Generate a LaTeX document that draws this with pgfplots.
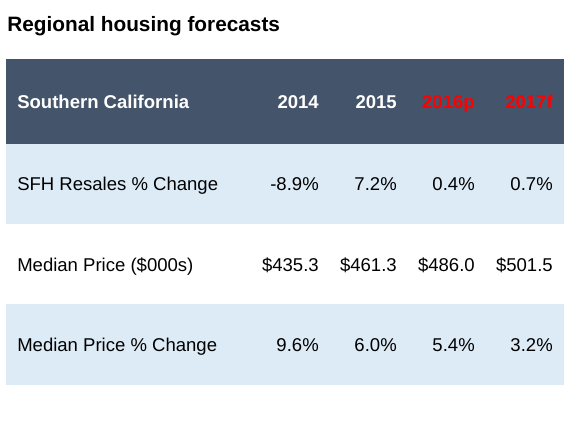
\documentclass[border=0pt]{standalone}
\usepackage{pgfplots}
\pgfplotsset{compat=1.18}
\usepackage{fontspec}
\setmainfont{Liberation Sans}
\definecolor{hdr}{RGB}{68,84,106}
\definecolor{rowblue}{RGB}{221,235,247}
\definecolor{fred}{RGB}{255,0,0}
\newcommand{\body}{\fontsize{13.9}{16}\selectfont}
\begin{document}
\begin{tikzpicture}
\begin{axis}[width=437.25pt, height=324.75pt, scale only axis,
  xmin=0, xmax=583, ymin=0, ymax=433, y dir=reverse, hide axis, clip=false]
% row backgrounds
\addplot[fill=hdr, draw=none] coordinates {(6,59) (564,59) (564,144) (6,144)} -- cycle;
\addplot[fill=rowblue, draw=none] coordinates {(6,144) (564,144) (564,224) (6,224)} -- cycle;
\addplot[fill=rowblue, draw=none] coordinates {(6,304) (564,304) (564,385) (6,385)} -- cycle;
% title
\node[anchor=base west, inner sep=0pt, font=\fontsize{15.6}{18}\selectfont\bfseries] at (axis cs:7,31.5) {Regional housing forecasts};
% header
\node[anchor=base west, inner sep=0pt, font=\body\bfseries, text=white] at (axis cs:17,108) {Southern California};
\node[anchor=base east, inner sep=0pt, font=\body\bfseries, text=white] at (axis cs:319,108) {2014};
\node[anchor=base east, inner sep=0pt, font=\body\bfseries, text=white] at (axis cs:397,108) {2015};
\node[anchor=base east, inner sep=0pt, font=\body\bfseries, text=fred] at (axis cs:475,108) {2016p};
\node[anchor=base east, inner sep=0pt, font=\body\bfseries, text=fred] at (axis cs:553,108) {2017f};
% row 1
\node[anchor=base west, inner sep=0pt, font=\body] at (axis cs:17,190) {SFH Resales \% Change};
\node[anchor=base east, inner sep=0pt, font=\body] at (axis cs:319,190) {-8.9\%};
\node[anchor=base east, inner sep=0pt, font=\body] at (axis cs:397,190) {7.2\%};
\node[anchor=base east, inner sep=0pt, font=\body] at (axis cs:475,190) {0.4\%};
\node[anchor=base east, inner sep=0pt, font=\body] at (axis cs:553,190) {0.7\%};
% row 2
\node[anchor=base west, inner sep=0pt, font=\body] at (axis cs:17,271) {Median Price (\$000s)};
\node[anchor=base east, inner sep=0pt, font=\body] at (axis cs:319,271) {\$435.3};
\node[anchor=base east, inner sep=0pt, font=\body] at (axis cs:397,271) {\$461.3};
\node[anchor=base east, inner sep=0pt, font=\body] at (axis cs:475,271) {\$486.0};
\node[anchor=base east, inner sep=0pt, font=\body] at (axis cs:553,271) {\$501.5};
% row 3
\node[anchor=base west, inner sep=0pt, font=\body] at (axis cs:17,351.5) {Median Price \% Change};
\node[anchor=base east, inner sep=0pt, font=\body] at (axis cs:319,351.5) {9.6\%};
\node[anchor=base east, inner sep=0pt, font=\body] at (axis cs:397,351.5) {6.0\%};
\node[anchor=base east, inner sep=0pt, font=\body] at (axis cs:475,351.5) {5.4\%};
\node[anchor=base east, inner sep=0pt, font=\body] at (axis cs:553,351.5) {3.2\%};
\end{axis}
\pgfresetboundingbox
\path (current axis.south west) rectangle (current axis.north east);
\end{tikzpicture}
\end{document}
